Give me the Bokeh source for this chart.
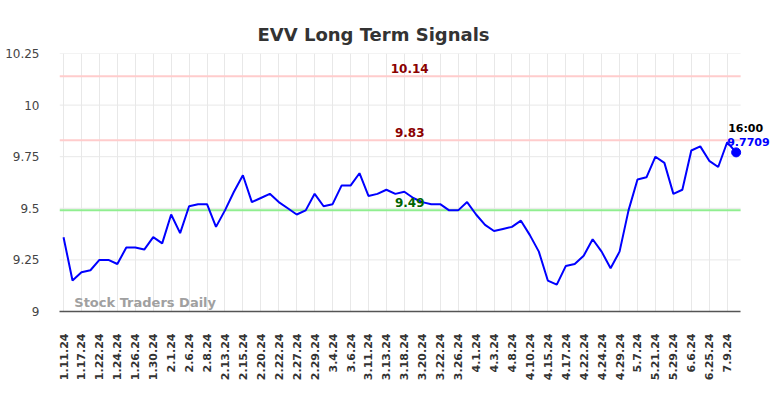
import math
from bokeh.plotting import figure
from bokeh.models import Range1d, FixedTicker, Label
from bokeh.embed import file_html
from bokeh.resources import INLINE

# ---- data ----
tick_labels = ["1.11.24", "1.17.24", "1.22.24", "1.24.24", "1.26.24", "1.30.24", "2.1.24",
               "2.6.24", "2.8.24", "2.13.24", "2.15.24", "2.20.24", "2.22.24", "2.27.24",
               "2.29.24", "3.4.24", "3.6.24", "3.11.24", "3.13.24", "3.18.24", "3.20.24",
               "3.22.24", "3.26.24", "4.1.24", "4.3.24", "4.8.24", "4.10.24", "4.15.24",
               "4.17.24", "4.22.24", "4.24.24", "4.29.24", "5.7.24", "5.21.24", "5.29.24",
               "6.6.24", "6.25.24", "7.9.24"]
prices = [9.36, 9.15, 9.19, 9.20, 9.25, 9.25, 9.23, 9.31, 9.31, 9.30,
          9.36, 9.33, 9.47, 9.38, 9.51, 9.52, 9.52, 9.41, 9.49, 9.58,
          9.66, 9.53, 9.55, 9.57, 9.53, 9.50, 9.47, 9.49, 9.57, 9.51,
          9.52, 9.61, 9.61, 9.67, 9.56, 9.57, 9.59, 9.57, 9.58, 9.55,
          9.53, 9.52, 9.52, 9.49, 9.49, 9.53, 9.47, 9.42, 9.39, 9.40,
          9.41, 9.44, 9.37, 9.29, 9.15, 9.13, 9.22, 9.23, 9.27, 9.35,
          9.29, 9.21, 9.29, 9.49, 9.64, 9.65, 9.75, 9.72, 9.57, 9.59,
          9.78, 9.80, 9.73, 9.70, 9.82, 9.7709]
resistance_high = 10.14
resistance_low = 9.83
support = 9.49
last_time = "16:00"
y_ticks = [9, 9.25, 9.5, 9.75, 10, 10.25]
y_tick_labels = ["9", "9.25", "9.5", "9.75", "10", "10.25"]

xs = list(range(len(prices)))
label_positions = list(range(0, 2 * len(tick_labels), 2))
x_start, x_end = -0.45, 75.5   # visible data extent

p = figure(width=776, height=390, output_backend="svg", toolbar_location=None,
           x_range=Range1d(x_start, 79.5), y_range=Range1d(9, 10.25),
           min_border_left=59, min_border_right=0, min_border_top=53, min_border_bottom=79)
p.outline_line_color = None
p.background_fill_color = "white"

p.title.text = "EVV Long Term Signals"
p.title.text_font = "DejaVu Sans"
p.title.text_font_size = "18px"
p.title.text_font_style = "bold"
p.title.text_color = "#333333"
p.title.align = "left"
p.title.offset = 198
p.title.standoff = 17

# grids
p.xgrid.grid_line_color = "#e8e8e8"
p.xgrid.grid_line_width = 1
p.ygrid.grid_line_color = None
p.segment(x0=[x_start] * len(y_ticks), y0=y_ticks, x1=[x_end] * len(y_ticks), y1=y_ticks,
          line_color="#e8e8e8", line_width=1)

# x axis
p.xaxis.ticker = FixedTicker(ticks=label_positions)
p.xaxis.major_label_overrides = {pos: lab for pos, lab in zip(label_positions, tick_labels)}
p.xaxis.major_label_orientation = math.pi / 2
p.xaxis.major_label_text_font = "DejaVu Sans"
p.xaxis.major_label_text_font_size = "11px"
p.xaxis.major_label_text_font_style = "bold"
p.xaxis.major_label_text_color = "#333333"
p.xaxis.major_tick_line_color = None
p.xaxis.minor_tick_line_color = None
p.xaxis.axis_line_color = "#555555"
p.xaxis.axis_line_width = 1.5
p.xaxis.major_label_standoff = 16
p.xaxis.bounds = (x_start, x_end)

# y axis
p.yaxis.ticker = FixedTicker(ticks=y_ticks)
p.yaxis.major_label_overrides = {t: l for t, l in zip(y_ticks, y_tick_labels)}
p.yaxis.major_label_text_font = "DejaVu Sans"
p.yaxis.major_label_text_font_size = "12px"
p.yaxis.major_label_text_color = "#444444"
p.yaxis.major_tick_line_color = None
p.yaxis.minor_tick_line_color = None
p.yaxis.axis_line_color = None
p.yaxis.major_label_standoff = 14

# signal lines
p.line([x_start, x_end], [resistance_high, resistance_high], line_color="#ffcccc", line_width=2)
p.line([x_start, x_end], [resistance_low, resistance_low], line_color="#ffcccc", line_width=2)
p.line([x_start, x_end], [support, support], line_color="#90ee90", line_width=2)

# price line
p.line(xs, prices, line_color="#0000ff", line_width=2)
p.scatter([xs[-1]], [prices[-1]], size=9, color="#0000ff")

# signal labels
for val, col in [(resistance_high, "#8b0000"), (resistance_low, "#8b0000"), (support, "#006400")]:
    p.add_layout(Label(x=38.6, y=val, text=f"{val:.2f}", text_align="center",
                       text_baseline="bottom", y_offset=3, text_font="DejaVu Sans",
                       text_font_size="12px", text_font_style="bold", text_color=col))

# last value labels
p.add_layout(Label(x=xs[-1], y=prices[-1], text=last_time, text_align="left",
                   text_baseline="bottom", x_offset=-8, y_offset=17, text_font="DejaVu Sans",
                   text_font_size="11px", text_font_style="bold", text_color="#000000"))
p.add_layout(Label(x=xs[-1], y=prices[-1], text=f"{prices[-1]:.4f}", text_align="left",
                   text_baseline="bottom", x_offset=-9, y_offset=6, text_font="DejaVu Sans",
                   text_font_size="11px", text_font_style="bold", text_color="#0000ff"))

# watermark
p.add_layout(Label(x=1.2, y=9.0, text="Stock Traders Daily", text_align="left",
                   text_baseline="bottom", y_offset=2, text_font="DejaVu Sans",
                   text_font_size="13px", text_font_style="bold", text_color="#a0a0a0"))

open("out.html", "w").write(file_html(p, INLINE))
